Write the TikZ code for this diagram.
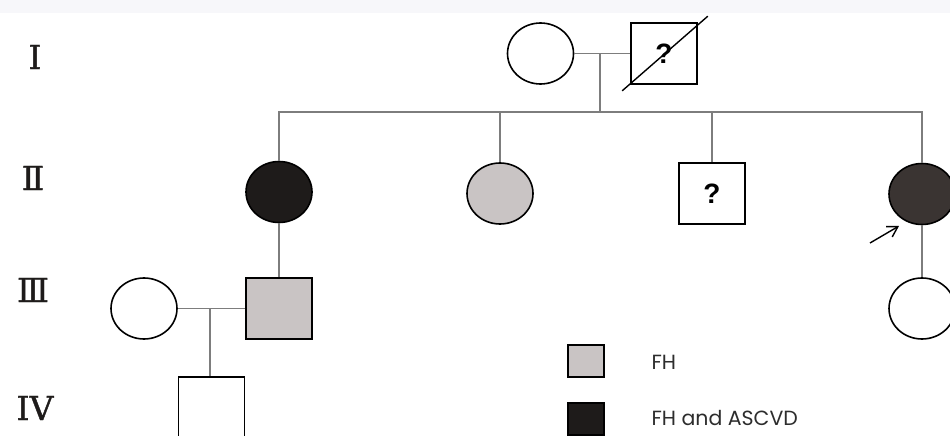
\documentclass[tikz,border=0pt]{standalone}
\usepackage{fontspec}
\setmainfont{Liberation Serif}
\newfontfamily\genfont[FakeBold=1.2]{DejaVu Serif}
\newfontfamily\legendfont{Poppins}
\newfontfamily\qfont{Liberation Sans}
\definecolor{fhgray}{RGB}{201,196,196}
\definecolor{ascvdblack}{RGB}{30,27,26}
\definecolor{probanddark}{RGB}{58,52,50}
\definecolor{linegray}{RGB}{125,125,125}
\definecolor{stripgray}{RGB}{247,247,250}
\definecolor{legendink}{RGB}{45,45,45}
\usetikzlibrary{arrows.meta, positioning, shapes.geometric, calc}

\begin{document}
\begin{tikzpicture}[x=1pt, y=-1pt,
  female/.style={draw=black, line width=1.6pt, ellipse, minimum width=66pt, minimum height=61pt, inner sep=0pt, fill=white},
  male/.style={draw=black, line width=1.6pt, rectangle, minimum width=66pt, minimum height=61pt, inner sep=0pt, fill=white},
  unknown/.style={font=\qfont\bfseries\fontsize{28}{28}\selectfont},
  link/.style={draw=linegray, line width=1.2pt},
  genlabel/.style={text=ascvdblack, font=\genfont\fontsize{33}{33}\selectfont},
  legendbox/.style={draw=black, line width=1.5pt, minimum width=36pt, minimum height=32pt, inner sep=0pt},
  legendtext/.style={anchor=west, text=legendink, font=\legendfont\fontsize{20.5}{20.5}\selectfont}]
  % frame
  \clip (0,0) rectangle (950,436);
  \fill[white] (0,0) rectangle (950,436);
  \fill[stripgray] (0,0) rectangle (950,13);

  % generation labels
  \node[genlabel] (gI) at (35,57) {Ⅰ};
  \node[genlabel] (gII) at (33,178) {Ⅱ};
  \node[genlabel] (gIII) at (33,290) {Ⅲ};
  \node[genlabel] (gIV) at (35,408) {IV};

  % Generation I
  \node[female] (Ia) at (540.5,53.5) {};
  \node[male, unknown] (Ib) at (664,53.5) {?};
  \draw[line width=1.4pt] ($(Ib.south west)+(-8,6)$) -- ($(Ib.north east)+(10,-6)$);
  \coordinate (Im) at (600,53.5);
  \coordinate (sib) at (600,112);
  \draw[link] (Ia.east) -- (Ib.west);
  \draw[link] (Im) -- (sib);

  % Generation II
  \node[female, fill=ascvdblack] (IIa) at (279,192) {};
  \node[female, fill=fhgray] (IIb) at (500,193.5) {};
  \node[male, unknown] (IIc) at (712,193.5) {?};
  \node[female, fill=probanddark] (IId) at (922,194) {};
  \draw[link] (IIa.north) |- (sib) -| (IId.north);
  \draw[link] (IIb.north) -- (IIb.north |- sib);
  \draw[link] (IIc.north) -- (IIc.north |- sib);
  \coordinate (pr) at (870,243);
  \draw[-{Straight Barb[length=10pt, width=12pt, line width=1.4pt]}, line width=1.4pt] (pr) -- ++(29,-17);

  % Generation III
  \node[female] (IIIa) at (144,308.5) {};
  \node[male, fill=fhgray] (IIIb) at (279,308.5) {};
  \node[female] (IIIc) at (922,308.5) {};
  \coordinate (IIIm) at (210,309);
  \draw[link] (IIa.south) -- (IIIb.north);
  \draw[link] (IId.south) -- (IIIc.north);
  \draw[link] (IIIa.east) -- (IIIb.west);

  % Generation IV
  \node[male] (IVa) at (211.5,407.5) {};
  \draw[link] (IIIm) -- (IVa.north -| IIIm);

  % legend
  \node[legendbox, fill=fhgray] (lfh) at (586,361) {};
  \node[legendbox, fill=ascvdblack] (lasc) at (586,419) {};
  \node[legendtext] (tfh) at (648,362) {FH};
  \node[legendtext] (tasc) at (648,418) {FH and ASCVD};
\end{tikzpicture}
\end{document}
